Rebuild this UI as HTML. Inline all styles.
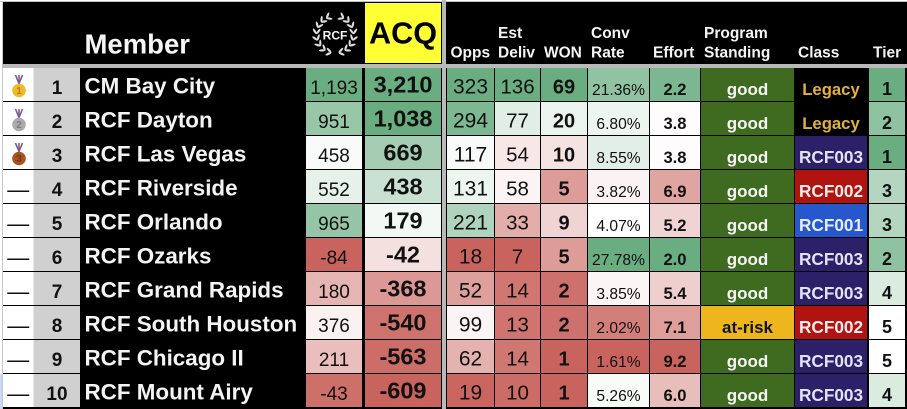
<!DOCTYPE html>
<html lang="en">
<head>
<meta charset="utf-8">
<title>RCF Member Leaderboard</title>
<style>
  html, body { margin: 0; padding: 0; background: #fff; width: 907px; height: 409px; overflow: hidden; }
  svg { display: block; font-family: "Liberation Sans", sans-serif; }
</style>
</head>
<body>
<svg id="board" xmlns="http://www.w3.org/2000/svg" width="907" height="409" viewBox="0 0 907 409"></svg>
<script>
const ranks = [1, 2, 3, 4, 5, 6, 7, 8, 9, 10];
const members = ["CM Bay City", "RCF Dayton", "RCF Las Vegas", "RCF Riverside", "RCF Orlando", "RCF Ozarks", "RCF Grand Rapids", "RCF South Houston", "RCF Chicago II", "RCF Mount Airy"];
const rcfScores = [1193, 951, 458, 552, 965, -84, 180, 376, 211, -43];
const acqValues = [3210, 1038, 669, 438, 179, -42, -368, -540, -563, -609];
const oppsValues = [323, 294, 117, 131, 221, 18, 52, 99, 62, 19];
const delivValues = [136, 77, 54, 58, 33, 7, 14, 13, 14, 10];
const wonValues = [69, 20, 10, 5, 9, 5, 2, 2, 1, 1];
const convRates = [21.36, 6.80, 8.55, 3.82, 4.07, 27.78, 3.85, 2.02, 1.61, 5.26];
const effortValues = [2.2, 3.8, 3.8, 6.9, 5.2, 2.0, 5.4, 7.1, 9.2, 6.0];
const standings = ["good", "good", "good", "good", "good", "good", "good", "at-risk", "good", "good"];
const classes = ["Legacy", "Legacy", "RCF003", "RCF002", "RCF001", "RCF003", "RCF003", "RCF002", "RCF003", "RCF003"];
const tiers = [1, 2, 1, 3, 3, 2, 4, 5, 5, 4];
const medalLabels = ["1", "2", "3"];

const SVG_NS = "http://www.w3.org/2000/svg";
const board = document.getElementById("board");
const GREEN = [105, 173, 129];
const RED = [201, 99, 93];

function rowY(i) { return 68 + 34 * i; }

function heat(v, k) {
  const red = k[0], mid = k[1], green = k[2];
  const toGreen = (green - mid) * (v - mid) >= 0;
  const t = Math.min(1, Math.max(0, toGreen ? (v - mid) / (green - mid) || 0 : (v - mid) / (red - mid)));
  const end = toGreen ? GREEN : RED;
  const c = end.map(function (e) { return Math.round(255 + (e - 255) * t); });
  return "rgb(" + c.join(",") + ")";
}

function rect(x, y, w, h, fill, name) {
  const r = document.createElementNS(SVG_NS, "rect");
  r.setAttribute("x", x);
  r.setAttribute("y", y);
  r.setAttribute("width", w);
  r.setAttribute("height", h);
  r.setAttribute("fill", fill);
  
  
  board.appendChild(r);
  return r;
}

function label(str, x, y, size, weight, fill, anchor, name) {
  const t = document.createElementNS(SVG_NS, "text");
  t.setAttribute("x", x);
  t.setAttribute("y", y);
  t.setAttribute("font-size", size);
  t.setAttribute("font-weight", weight);
  t.setAttribute("fill", fill);
  t.setAttribute("text-anchor", anchor);
  
  
  t.textContent = str;
  board.appendChild(t);
  return t;
}

function fmtInt(v) { return v.toLocaleString("en-US"); }

/* frame */
rect(0, 0, 907, 409, "#ffffff", "page-background");
rect(0, 1, 907, 1, "#c4c4c4", "top-grid-line");
rect(2, 1, 1, 408, "#c9c9c9", "left-grid-line");
rect(0, 374, 2, 35, "#c9d8f6", "selection-edge");
rect(3, 2, 904, 407, "#000000", "table-background");
rect(2, 64, 905, 4, "#b9b9b9", "header-separator");
rect(442, 0, 4, 409, "#b9b9b9", "column-group-separator");

/* header */
rect(365, 3, 76, 60, "#ffff33", "acq-header-cell");
label("Member", 84.5, 53.5, 27.5, "bold", "#f6f6f6", "start", "member-header");
label("ACQ", 369, 43.5, 30.6, "bold", "#000000", "start", "acq-header");

const headerLines = [
  ["Opps", 450.5, 57.5], ["Est", 498, 38], ["Deliv", 498, 57.5], ["WON", 544, 57.5],
  ["Conv", 591, 38], ["Rate", 591, 57.5], ["Effort", 653, 57.5],
  ["Program", 704, 38], ["Standing", 704, 57.5], ["Class", 798, 57.5], ["Tier", 873, 57.5]
];
headerLines.forEach(function (h) {
  label(h[0], h[1], h[2], 15.5, "bold", "#f4f4f4", "start", "column-header-" + h[0].toLowerCase());
});

/* laurel logo */
const logo = document.createElementNS(SVG_NS, "g");


board.appendChild(logo);
[-1, 1].forEach(function (side) {
  for (let a = 12; a <= 152; a += 20) {
    const rad = a * Math.PI / 180;
    const px = 18.5 * Math.sin(rad);
    const py = 34.5 + 18.5 * Math.cos(rad);
    const dx = Math.cos(rad);
    const dy = -Math.sin(rad);
    [-36, 36].forEach(function (off) {
      const o = off * Math.PI / 180;
      const nx = dx * Math.cos(o) - dy * Math.sin(o);
      const ny = dx * Math.sin(o) + dy * Math.cos(o);
      const lx = 335 + side * (px + 3 * nx);
      const ly = py + 3 * ny;
      const deg = Math.atan2(ny, side * nx) * 180 / Math.PI;
      const leaf = document.createElementNS(SVG_NS, "ellipse");
      leaf.setAttribute("cx", lx);
      leaf.setAttribute("cy", ly);
      leaf.setAttribute("rx", 3.3);
      leaf.setAttribute("ry", 1.1);
      leaf.setAttribute("fill", "#dedede");
      leaf.setAttribute("transform", "rotate(" + deg + " " + lx + " " + ly + ")");
      
      
      logo.appendChild(leaf);
    });
  }
});
label("RCF", 335, 39.5, 12, "bold", "#f6f6f6", "middle", "rcf-logo-text");

/* medal drawing */
function drawMedal(i) {
  const cy = rowY(i) + 22.5;
  const colors = [["#eeb92a", "#b97f10"], ["#ababab", "#7f7f7f"], ["#a5561e", "#6f3410"]][i];
  const g = document.createElementNS(SVG_NS, "g");
  
  
  board.appendChild(g);
  const ribbon = document.createElementNS(SVG_NS, "path");
  ribbon.setAttribute("d", "M15.5 " + (cy - 15.5) + "L19 " + (cy - 7) + "L22.5 " + (cy - 15.5));
  ribbon.setAttribute("fill", "none");
  ribbon.setAttribute("stroke", "#5a63ad");
  ribbon.setAttribute("stroke-width", "1.6");
  
  
  g.appendChild(ribbon);
  const stripe = document.createElementNS(SVG_NS, "path");
  stripe.setAttribute("d", "M19 " + (cy - 15.5) + "L19 " + (cy - 9));
  stripe.setAttribute("stroke", "#c9464a");
  stripe.setAttribute("stroke-width", "1.6");
  
  
  g.appendChild(stripe);
  const disc = document.createElementNS(SVG_NS, "circle");
  disc.setAttribute("cx", 19);
  disc.setAttribute("cy", cy);
  disc.setAttribute("r", 6.8);
  disc.setAttribute("fill", colors[0]);
  
  
  g.appendChild(disc);
  label(medalLabels[i], 19, cy + 3.5, 10, "bold", colors[1], "middle", "medal-number");
}

/* column scales: [red end, white midpoint, green end] */
const heatColumns = [
  { name: "rcf-score", x: 306, w: 56, v: rcfScores, k: [-84, 420, 1193], text: fmtInt, size: 19, weight: "normal", off: 26 },
  { name: "acq", x: 365, w: 76, v: acqValues, k: [-609, 100, 1038], text: fmtInt, size: 23.5, weight: "bold", off: 24.5 },
  { name: "opps", x: 447, w: 47, v: oppsValues, k: [18, 105, 323], text: fmtInt, size: 21, weight: "normal", off: 25.7 },
  { name: "est-deliv", x: 495, w: 45, v: delivValues, k: [7, 62, 136], text: fmtInt, size: 20.5, weight: "normal", off: 25.7 },
  { name: "won", x: 541, w: 46, v: wonValues, k: [1, 12, 69], text: fmtInt, size: 20, weight: "bold", off: 25.7 },
  { name: "conv-rate", x: 588, w: 61, v: convRates, k: [1.61, 4, 27.78], text: function (v) { return v.toFixed(2) + "%"; }, size: 15.6, weight: "normal", off: 27 },
  { name: "effort", x: 650, w: 50, v: effortValues, k: [9.2, 3.7, 2.0], text: function (v) { return v.toFixed(1); }, size: 16.6, weight: "bold", off: 27 },
  { name: "tier", x: 869, w: 36, v: tiers, k: [5, 5, 1], text: fmtInt, size: 18, weight: "bold", off: 27 }
];

const classFills = { Legacy: "#000000", RCF001: "#2757cd", RCF002: "#b01310", RCF003: "#2c2169" };
const classInk = { Legacy: "#e2b13c", RCF001: "#e6ecff", RCF002: "#f6eeee", RCF003: "#e4e2f8" };
const standingFills = { "good": "#3f6b21", "at-risk": "#edb61f" };
const standingInk = { "good": "#f6f6f6", "at-risk": "#141414" };

members.forEach(function (member, i) {
  const y = rowY(i);
  const h = 33;
  rect(3, y, 30.5, h, "#ffffff", "medal-cell");
  rect(33.5, y, 46.5, h, "#d0d0d0", "rank-cell");
  if (i < medalLabels.length) {
    drawMedal(i);
  } else {
    label("\u2014", 18.3, y + 27, 22, "normal", "#111111", "middle", "no-medal-dash");
  }
  label(String(ranks[i]), 57, y + 26, 19, "bold", "#111111", "middle", "rank-value");
  label(member, 84.5, y + 25.5, 22.4, "bold", "#f4f4f4", "start", "member-name");

  heatColumns.forEach(function (c) {
    rect(c.x, y, c.w, h, heat(c.v[i], c.k), c.name + "-cell");
    label(c.text(c.v[i]), c.x + c.w / 2, y + c.off, c.size, c.weight, "#111111", "middle", c.name + "-value");
  });

  rect(701, y, 93, h, standingFills[standings[i]], "standing-cell");
  label(standings[i], 747.5, y + 27, 17, "bold", standingInk[standings[i]], "middle", "standing-value");

  rect(795, y, 72, h, classFills[classes[i]], "class-cell");
  label(classes[i], 831, y + 27, classes[i] === "Legacy" ? 16.7 : 17.2, "bold", classInk[classes[i]], "middle", "class-value");
});
</script>
</body>
</html>
